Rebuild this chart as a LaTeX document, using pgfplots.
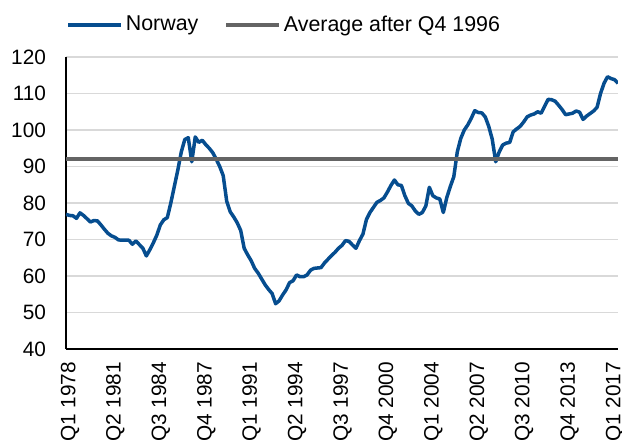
\documentclass[border=0pt]{standalone}
\usepackage{fontspec}
\setmainfont{Liberation Sans}
\usepackage{pgfplots}
\pgfplotsset{compat=1.18}
\definecolor{nblue}{RGB}{6,77,143}
\definecolor{avggray}{RGB}{100,100,100}
\definecolor{gridgray}{RGB}{217,217,217}
\begin{document}
\begin{tikzpicture}
\begin{axis}[
  scale only axis,
  width=276pt, height=146pt,
  xmin=0, xmax=158, ymin=40, ymax=120,
  axis lines*=left,
  axis line style={black, line width=0.8pt},
  xtick={0,13,...,156},
  xticklabels={Q1 1978,Q2 1981,Q3 1984,Q4 1987,Q1 1991,Q2 1994,Q3 1997,Q4 2000,Q1 2004,Q2 2007,Q3 2010,Q4 2013,Q1 2017},
  ytick={40,50,...,120},
  major tick length=0pt,
  ymajorgrids,
  grid style={gridgray, line width=0.8pt},
  tick label style={font=\fontsize{10.4}{12}\selectfont},
  /pgf/number format/assume math mode=true,
  xticklabel style={rotate=90, anchor=east, xshift=-3pt, yshift=-2pt},
  yticklabel style={xshift=-6.5pt},
  legend style={draw=none, fill=none, at={(axis description cs:0,1.11)}, anchor=west, inner xsep=0pt, inner ysep=0pt, font=\fontsize{10.7}{12}\selectfont, /tikz/every even column/.append style={column sep=11.5pt}, nodes={inner xsep=1.5pt}},
  legend columns=2,
  legend cell align=left,
  legend image code/.code={\draw[#1] (0pt,0pt) -- (26.5pt,0pt);},
]
\addplot[nblue, line width=1.75pt, line join=round] table[x=i, y=v] {
i v
0 76.9
1 76.6
2 76.5
3 75.8
4 77.3
5 76.6
6 75.7
7 74.8
8 75.2
9 75.1
10 74.0
11 72.8
12 71.7
13 71.0
14 70.6
15 69.9
16 69.8
17 69.8
18 69.8
19 68.7
20 69.6
21 68.6
22 67.6
23 65.5
24 67.2
25 69.1
26 71.2
27 74.0
28 75.4
29 76.0
30 80.0
31 84.5
32 89.0
33 94.0
34 97.4
35 97.9
36 91.3
37 98.1
38 96.6
39 97.2
40 96.0
41 95.0
42 93.8
43 92.0
44 90.0
45 87.5
46 80.5
47 77.6
48 76.2
49 74.6
50 72.5
51 67.6
52 65.8
53 64.2
54 62.1
55 60.8
56 59.2
57 57.6
58 56.3
59 55.2
60 52.4
61 53.2
62 54.8
63 56.2
64 58.2
65 58.7
66 60.3
67 59.8
68 59.8
69 60.3
70 61.6
71 62.1
72 62.2
73 62.3
74 63.6
75 64.6
76 65.6
77 66.5
78 67.6
79 68.4
80 69.7
81 69.5
82 68.5
83 67.6
84 69.7
85 71.5
86 75.5
87 77.4
88 78.8
89 80.2
90 80.7
91 81.4
92 83.0
93 84.8
94 86.3
95 85.0
96 84.8
97 82.0
98 79.9
99 79.2
100 77.8
101 76.9
102 77.4
103 79.2
104 84.3
105 82.0
106 81.4
107 81.1
108 77.4
109 81.5
110 84.5
111 87.2
112 94.0
113 97.7
114 100.0
115 101.4
116 103.2
117 105.3
118 104.8
119 104.7
120 103.6
121 101.0
122 97.5
123 91.3
124 94.0
125 95.9
126 96.4
127 96.6
128 99.5
129 100.3
130 101.0
131 102.2
132 103.6
133 104.1
134 104.4
135 105.0
136 104.6
137 106.5
138 108.4
139 108.3
140 107.9
141 106.8
142 105.6
143 104.2
144 104.4
145 104.6
146 105.2
147 104.9
148 102.9
149 103.8
150 104.5
151 105.2
152 106.2
153 110.0
154 112.8
155 114.6
156 114.1
157 113.8
158 112.8
};
\addlegendentry{Norway}
\addplot[avggray, line width=1.75pt] coordinates {(0,92.0) (158,92.0)};
\addlegendentry{Average after Q4 1996}
\end{axis}
\pgfresetboundingbox
\path (-33pt,-46pt) rectangle (278pt,174.5pt);
\end{tikzpicture}
\end{document}
